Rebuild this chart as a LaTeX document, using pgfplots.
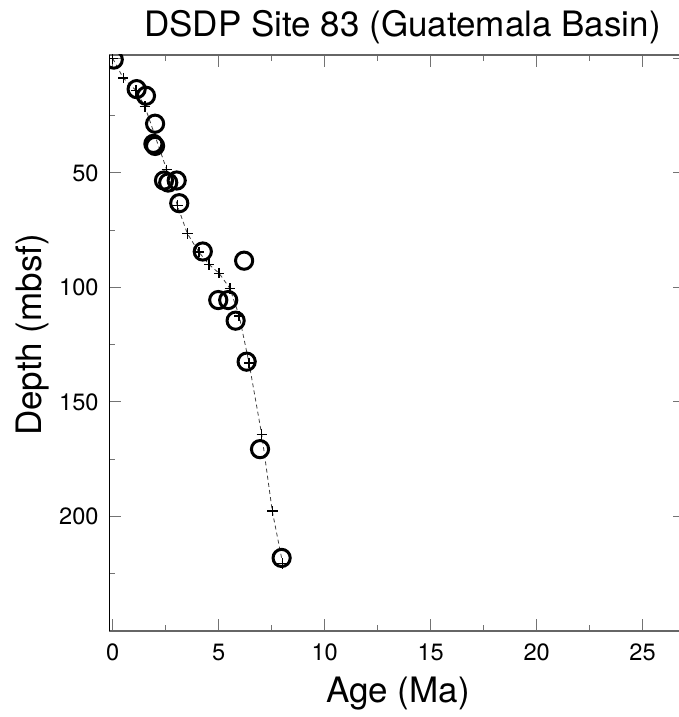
\documentclass[border=0pt]{standalone}
\usepackage{fontspec}
\setmainfont{TeX Gyre Heros}
\usepackage{pgfplots}
\pgfplotsset{compat=1.18}
\begin{document}
\begin{tikzpicture}
\begin{axis}[
  at={(0,0)}, anchor=south west,
  scale only axis, width=287.85pt, height=288pt,
  xmin=-0.16, xmax=27, ymin=-1.5, ymax=250, y dir=reverse,
  xtick={0,5,...,25}, minor xtick={2.5,7.5,...,22.5},
  ytick={0,50,100,150,200}, yticklabels={{},50,100,150,200},
  minor ytick={25,75,...,225},
  tick align=inside,
  major tick length=6pt, minor tick length=3pt,
  tick style={black!55, line width=0.5pt},
  separate axis lines,
  x axis line style={black!60, line width=0.6pt},
  y axis line style={black, line width=0.5pt},
  /pgf/number format/assume math mode=true,
  tick label style={font=\fontsize{11.8}{14}\selectfont},
  xticklabel style={anchor=base, yshift=-14.5pt, inner sep=0pt},
  yticklabel style={anchor=east, inner sep=0pt, xshift=-5.15pt},
  clip=true, clip marker paths=true,
]
\addplot[black!75, line width=0.4pt, dash pattern=on 2pt off 1.6pt,
  mark=+, mark size=2.6pt, mark options={solid, black, line width=0.75pt}]
  coordinates {
  (0,0) (0.5,8.6) (1.1,14) (1.52,21) (2.55,48.6)
  (3.05,64.2) (3.52,76.4) (4.06,84.5) (4.55,90) (5.02,93.8) (5.53,100.4)
  (5.97,112.5) (6.43,132.9) (7.03,164.2) (7.53,197.7) (8.02,220.5)
  };
\addplot[only marks, mark=o, mark size=4.3pt, mark options={black, line width=1.5pt}]
  coordinates {
  (0.05,0.5) (1.13,13.4) (1.57,16.3) (2.0,28.5) (1.92,37.3) (2.0,38.2)
  (2.42,53.3) (2.62,54.2) (3.02,53.3) (3.14,63.2) (4.25,84.3) (6.2,88.3)
  (4.98,105.5) (5.45,105.5) (5.8,114.5) (6.32,132.4) (6.95,170.6) (7.97,218.1)
  };
\end{axis}
\node[anchor=base, inner sep=0pt, font=\fontsize{17.5}{20}\selectfont] at (146.6pt,297.15pt) {DSDP Site 83 (Guatemala Basin)};
\node[anchor=base, inner sep=0pt, font=\fontsize{17.5}{20}\selectfont] at (144.35pt,-36pt) {Age (Ma)};
\node[anchor=base, inner sep=0pt, rotate=90, font=\fontsize{17.5}{20}\selectfont] at (-33.8pt,148pt) {Depth (mbsf)};
\pgfresetboundingbox
\useasboundingbox (-54.65pt,-43pt) rectangle (284.85pt,315.5pt);
\end{tikzpicture}
\end{document}
